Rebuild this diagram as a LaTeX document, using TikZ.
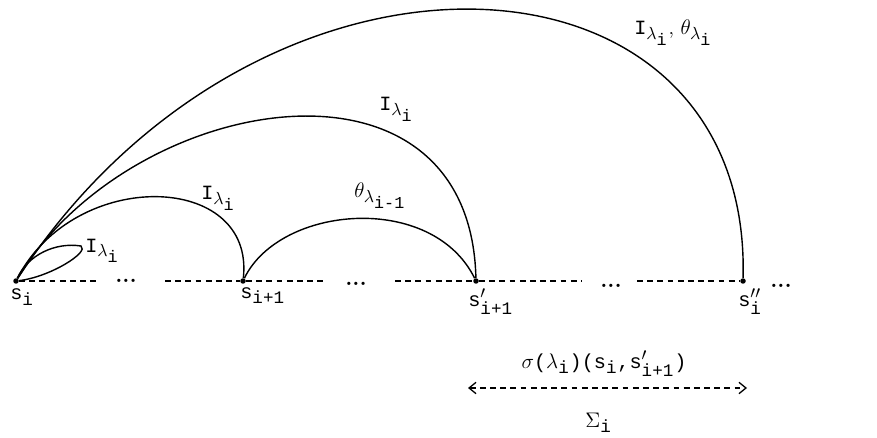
\documentclass[tikz,border=0pt]{standalone}
\usepackage{amsmath}
\usepackage{fontspec}
\setmonofont{Liberation Mono}
\usetikzlibrary{arrows.meta}
\DeclareMathSizes{11.5}{11.5}{10}{9.5}
\newcommand{\tti}[1]{\text{\ttfamily #1}}
\newcommand{\Ilam}{$\tti{I}_{\lambda_{\tti{i}}}$}

\begin{document}
\begin{tikzpicture}[x=0.02cm, y=0.02cm,
  font=\fontsize{11.5}{13}\selectfont,
  st/.style={circle, fill=black, inner sep=0pt, minimum size=1.1mm},
  tr/.style={line width=0.8pt},
  bl/.style={line width=0.75pt, dash pattern=on 3.3pt off 2.5pt},
  dd/.style={anchor=base, inner sep=0pt, font=\bfseries\fontsize{13}{15}\selectfont},
  lb/.style={anchor=base west, inner sep=0pt},
  sb/.tip={Straight Barb[length=4pt, width=6.5pt]},
]
\useasboundingbox (0,0) rectangle (877,437);
% states on the base line
\node[st] (si) at (16,156) {};
\node[st] (sj) at (243,156) {};
\node[st] (sj1) at (476,156) {};
\node[st] (si2) at (743,156) {};
\node[lb] (lsi) at (10,137) {$\tti{s}_{\tti{i}}$};
\node[lb] (lsj) at (240,139) {$\tti{s}_{\tti{i+1}}$};
\node[lb] (lsj1) at (468,131) {$\tti{s}'_{\tti{i+1}}$};
\node[lb] (lsi2) at (738,131) {$\tti{s}''_{\tti{i}}$};
% dashed base line and dots
\foreach \n/\x in {a1/97, a2/165, a3/325, a4/395, a5/582, a6/637} {
  \coordinate (\n) at (\x,156);
}
\draw[bl] (si) -- (a1);
\draw[bl] (a2) -- (sj) -- (a3);
\draw[bl] (a4) -- (sj1) -- (a5);
\draw[bl] (a6) -- (si2);
\foreach \n/\x/\y in {d1/126/154, d2/356/152, d3/611/150, d4/781/150} {
  \node[dd] (\n) at (\x,\y) {...};
}
% arcs
\coordinate (lp) at (81,191);
\draw[tr] (si) .. controls (28,182) and (55,195) .. (lp)
  .. controls (90,185) and (50,160) .. (si);
\draw[tr] (si) .. controls (75,270) and (255,265) .. (sj);
\draw[tr] (sj) .. controls (280,232) and (432,245) .. (sj1);
\draw[tr] (si) .. controls (130,345) and (470,403) .. (sj1);
\draw[tr] (si) .. controls (260,530) and (752,505) .. (si2);
\node[lb] (l1) at (85,185) {\Ilam};
\node[lb] (l2) at (201,237) {\Ilam};
\node[lb] (l3) at (354,239) {$\theta_{\lambda_{\tti{i-1}}}$};
\node[lb] (l4) at (379,326) {\Ilam};
\node[lb] (l5) at (634,402) {\Ilam, $\theta_{\lambda_{\tti{i}}}$};
% span of sigma
\node[anchor=base] (sg) at (604,69)
  {$\sigma\tti{(}\lambda_{\tti{i}}\tti{)(s}_{\tti{i}}\tti{,s}'_{\tti{i+1}}\tti{)}$};
\coordinate (ar1) at (468,49);
\coordinate (ar2) at (747,49);
\draw[bl, sb-sb] (ar1) -- (ar2);
\node[lb] (sgm) at (585,10) {$\Sigma_{\tti{i}}$};
\end{tikzpicture}
\end{document}
